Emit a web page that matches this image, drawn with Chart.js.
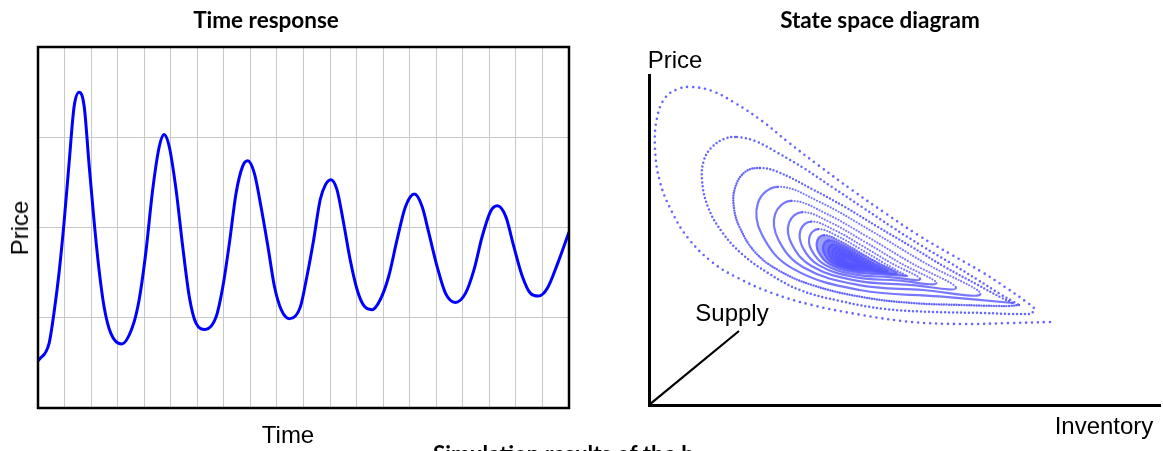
<!DOCTYPE html>
<html>
<head>
<meta charset="utf-8">
<script src="https://cdn.jsdelivr.net/npm/chart.js@4.4.1/dist/chart.umd.min.js"></script>
<style>
    html, body { margin: 0; padding: 0; background: #fff; }
    body { position: relative; width: 1163px; height: 451px; overflow: hidden; }
    canvas { position: absolute; top: 0; }
    .lbl { position: absolute; font-family: "Liberation Sans", Arial, sans-serif; font-size: 24px; color: #000; white-space: nowrap; line-height: 1; }
    .ttl { position: absolute; font-family: Lato, "Open Sans", sans-serif; font-weight: bold; font-size: 22.5px; color: #000; white-space: nowrap; line-height: 1; }
</style>
</head>
<body>
<canvas id="timeChart" width="600" height="451" style="left:0"></canvas>
<canvas id="stateChart" width="563" height="451" style="left:600px"></canvas>

<div class="ttl" style="left:266px; top:20px; transform:translate(-50%,-50%)">Time response</div>
<div class="ttl" style="left:880px; top:20px; transform:translate(-50%,-50%)">State space diagram</div>
<div class="lbl" style="left:20px; top:228px; transform:translate(-50%,-50%) rotate(-90deg)">Price</div>
<div class="lbl" style="left:288px; top:435px; transform:translate(-50%,-50%)">Time</div>
<div class="lbl" style="left:675px; top:60px; transform:translate(-50%,-50%)">Price</div>
<div class="lbl" style="left:732px; top:313px; transform:translate(-50%,-50%)">Supply</div>
<div class="lbl" style="left:1104px; top:426px; transform:translate(-50%,-50%)">Inventory</div>
<div class="ttl" style="left:433px; top:443px;">Simulation results of the b</div>

<script>
// time response
const time = [0, 0.42, 0.60, 0.79, 0.98, 1.17, 1.36, 1.55, 1.74, 1.92, 2.11, 2.30, 2.49, 2.74, 3.15, 3.56, 3.81, 4.06, 4.32, 4.57,
    4.75, 4.94, 5.20, 5.45, 5.70, 5.95, 6.30, 6.71, 6.96, 7.21, 7.46, 7.71, 7.90, 8.15, 8.40, 8.66, 8.91, 9.16, 9.47, 9.88,
    10.13, 10.38, 10.63, 10.82, 11.03, 11.26, 11.51, 11.76, 12.02, 12.26, 12.58, 12.89, 13.21, 13.52, 13.84, 14.18, 14.47, 14.72, 15.03, 15.35,
    15.72, 16.10, 16.42, 16.73, 17.05, 17.30, 17.62, 17.92, 18.24, 18.55, 18.85, 19.19, 19.57, 20.00];
const price = [0.52, 0.72, 1.05, 1.49, 2.05, 2.71, 3.34, 3.50, 3.34, 2.71, 2.08, 1.53, 1.12, 0.83, 0.71, 0.90, 1.20, 1.72, 2.42, 2.90,
    3.03, 2.90, 2.42, 1.79, 1.23, 0.94, 0.87, 1.01, 1.34, 1.83, 2.38, 2.68, 2.74, 2.60, 2.23, 1.79, 1.34, 1.09, 0.99, 1.12,
    1.46, 1.86, 2.31, 2.47, 2.53, 2.42, 2.05, 1.64, 1.31, 1.14, 1.09, 1.20, 1.46, 1.86, 2.23, 2.37, 2.23, 1.94, 1.57, 1.27,
    1.17, 1.27, 1.53, 1.90, 2.18, 2.24, 2.12, 1.79, 1.46, 1.27, 1.24, 1.33, 1.60, 1.95];

// state space orbit, [inventory, price] pairs
const orbit0 = [[401,83],[363,82],[313,81],[263,83],[213,90],[163,100],[123,112],[89,127],[63,143],[39,167],[23,193],[11,223],[6,257],[8,287],
    [16,307],[29,316],[43,318],[63,314],[86,302],[113,284],[139,263],[169,240],[203,215],[236,192],[269,170],[303,150],[333,133],[356,118],[376,104],[386,95],[380,91]];
const orbit1 = [[380,91],[361,91],[336,92],[286,93],[236,96],[191,104],[151,115],[119,132],[93,151],[73,173],[59,198],[53,225],[55,245],[63,258],
    [75,266],[88,268],[106,264],[129,252],[156,236],[183,218],[213,198],[243,178],[273,159],[303,141],[329,125],[351,111],[365,103],[370,100]];
const orbit2 = [[370,100],[360,99],[349,99],[313,100],[263,102],[213,108],[163,120],[129,135],[106,153],[91,177],[85,197],[86,217],[96,233],
    [111,237],[129,233],[163,216],[196,198],[229,178],[263,158],[296,138],[329,120],[353,107],[364,102]];
const orbitInner = [[364,102],
    [290.6,108.6],[210.6,115.0],[143.4,136.6],[113.0,170.2],[109.0,202.2],[129.0,218.2],[170.6,203.0],[223.4,173.4],[277.0,141.4],[331.4,111.0],
    [273.8,115.0],[208.8,120.2],[154.2,137.8],[129.5,165.1],[126.2,191.1],[142.5,204.1],[176.3,191.8],[219.2,167.7],[262.8,141.7],[307.0,117.0],
    [260.4,120.2],[207.4,124.4],[162.8,138.8],[142.7,161.0],[140.0,182.2],[153.3,192.8],[180.9,182.8],[215.8,163.1],[251.4,141.9],[287.4,121.8],
    [249.2,124.5],[206.2,127.9],[170.0,139.6],[153.7,157.6],[151.5,174.8],[162.3,183.4],[184.7,175.3],[213.0,159.3],[241.9,142.1],[271.1,125.8],
    [240.2,127.9],[205.2,130.7],[175.8,140.2],[162.5,154.9],[160.7,168.9],[169.5,175.9],[187.7,169.3],[210.8,156.3],[234.3,142.3],[258.1,129.0]];
const orbitCore = [[258.1,129.0],
    [232.9,130.7],[204.4,133.0],[180.5,140.7],[169.6,152.7],[168.2,164.1],[175.3,169.8],[190.2,164.4],[209.0,153.8],[228.1,142.4],[247.5,131.6],
    [226.8,133.1],[203.8,134.9],[184.4,141.2],[175.7,150.8],[174.5,160.0],[180.3,164.6],[192.3,160.3],[207.4,151.7],[222.9,142.5],[238.5,133.8],
    [221.7,135.0],[203.2,136.5],[187.7,141.5],[180.6,149.3],[179.7,156.7],[184.3,160.4],[194.0,156.9],[206.2,150.0],[218.6,142.6],[231.2,135.6],
    [217.8,136.5],[202.8,137.7],[190.2,141.8],[184.5,148.1],[183.7,154.1],[187.5,157.1],[195.3,154.3],[205.2,148.7],[215.3,142.7],[225.5,137.0],
    [214.4,137.8],[202.4,138.8],[192.4,142.0],[187.8,147.1],[187.2,151.9],[190.2,154.3],[196.4,152.0],[204.4,147.6],[212.4,142.8],[220.6,138.2],
    [211.6,138.9],[202.1,139.7],[194.2,142.2],[190.6,146.2],[190.1,150.0],[192.5,151.9],[197.4,150.1],[203.7,146.6],[210.0,142.8],[216.5,139.2],
    [209.4,139.8],[201.9,140.4],[195.6,142.4],[192.8,145.6],[192.4,148.6],[194.3,150.1],[198.2,148.6],[203.1,145.9],[208.1,142.9],[213.2,140.0],
    [207.2,140.6],[201.7,141.1],[197.0,142.6],[195.0,144.9],[194.7,147.1],[196.0,148.2],[198.9,147.1],[202.5,145.1],[206.2,142.9],[210.0,140.8]];
const supplyAxis = [[0,0],[90,74]];

Chart.defaults.animation = false;

const toXY = pairs => pairs.map(p => ({ x: p[0], y: p[1] }));

// box around the plot area
const framePlugin = {
    id: 'frame',
    afterDraw(chart) {
        const a = chart.chartArea, ctx = chart.ctx;
        ctx.save();
        ctx.strokeStyle = '#000';
        ctx.lineWidth = 2.5;
        ctx.strokeRect(a.left, a.top, a.right - a.left, a.bottom - a.top);
        ctx.restore();
    }
};

new Chart(document.getElementById('timeChart'), {
    type: 'line',
    data: {
        datasets: [{
            data: time.map((t, i) => ({ x: t, y: price[i] })),
            borderColor: '#0000ff',
            borderWidth: 3,
            pointRadius: 0,
            cubicInterpolationMode: 'monotone',
            fill: false
        }]
    },
    options: {
        responsive: false,
        layout: { padding: { left: 38, top: 47, right: 31, bottom: 43 } },
        plugins: { legend: { display: false }, tooltip: { enabled: false } },
        scales: {
            x: {
                type: 'linear', min: 0, max: 20,
                ticks: { display: false, stepSize: 1 },
                grid: { color: '#c8c8c8', lineWidth: 1, drawTicks: false },
                border: { display: false }
            },
            y: {
                type: 'linear', min: 0, max: 4,
                ticks: { display: false, stepSize: 1 },
                grid: { color: '#c8c8c8', lineWidth: 1, drawTicks: false },
                border: { display: false }
            }
        }
    },
    plugins: [framePlugin]
});

// the fast, falling part of each turn shows as loose dots
const falling = ctx => ctx.p1.parsed.x > ctx.p0.parsed.x && ctx.p1.parsed.y < ctx.p0.parsed.y;

const orbitSet = (pairs, gap, fallGap, width, color) => ({
    type: 'line',
    data: toXY(pairs),
    borderColor: color,
    borderWidth: width,
    borderDash: gap ? [0, gap] : [],
    borderCapStyle: 'round',
    segment: {
        borderDash: ctx => falling(ctx) ? [0, fallGap] : (gap ? [0, gap] : [])
    },
    pointRadius: 0,
    tension: 0.4,
    fill: false
});

const core = orbitSet(orbitCore, 0, 2.6, 2.2, 'rgba(85,85,255,0.8)');
core.fill = 'shape';
core.backgroundColor = 'rgba(95,95,255,0.6)';

new Chart(document.getElementById('stateChart'), {
    type: 'scatter',
    data: {
        datasets: [
            orbitSet(orbit0, 6, 6, 2.6, 'rgba(85,85,255,0.9)'),
            orbitSet(orbit1, 4, 4.5, 2.5, 'rgba(85,85,255,0.9)'),
            orbitSet(orbit2, 2.5, 3.5, 2.4, 'rgba(85,85,255,0.9)'),
            orbitSet(orbitInner, 0, 3, 2.2, 'rgba(85,85,255,0.8)'),
            core,
            {
                type: 'line',
                data: toXY(supplyAxis),
                borderColor: '#000',
                borderWidth: 2.2,
                pointRadius: 0
            }
        ]
    },
    options: {
        responsive: false,
        layout: { padding: { left: 49, top: 75, right: 3, bottom: 46 } },
        plugins: { legend: { display: false }, tooltip: { enabled: false } },
        scales: {
            x: {
                type: 'linear', min: 0, max: 511,
                ticks: { display: false },
                grid: { display: false, drawTicks: false },
                border: { display: true, color: '#000', width: 3 }
            },
            y: {
                type: 'linear', min: 0, max: 330,
                ticks: { display: false },
                grid: { display: false, drawTicks: false },
                border: { display: true, color: '#000', width: 3 }
            }
        }
    }
});
</script>
</body>
</html>
